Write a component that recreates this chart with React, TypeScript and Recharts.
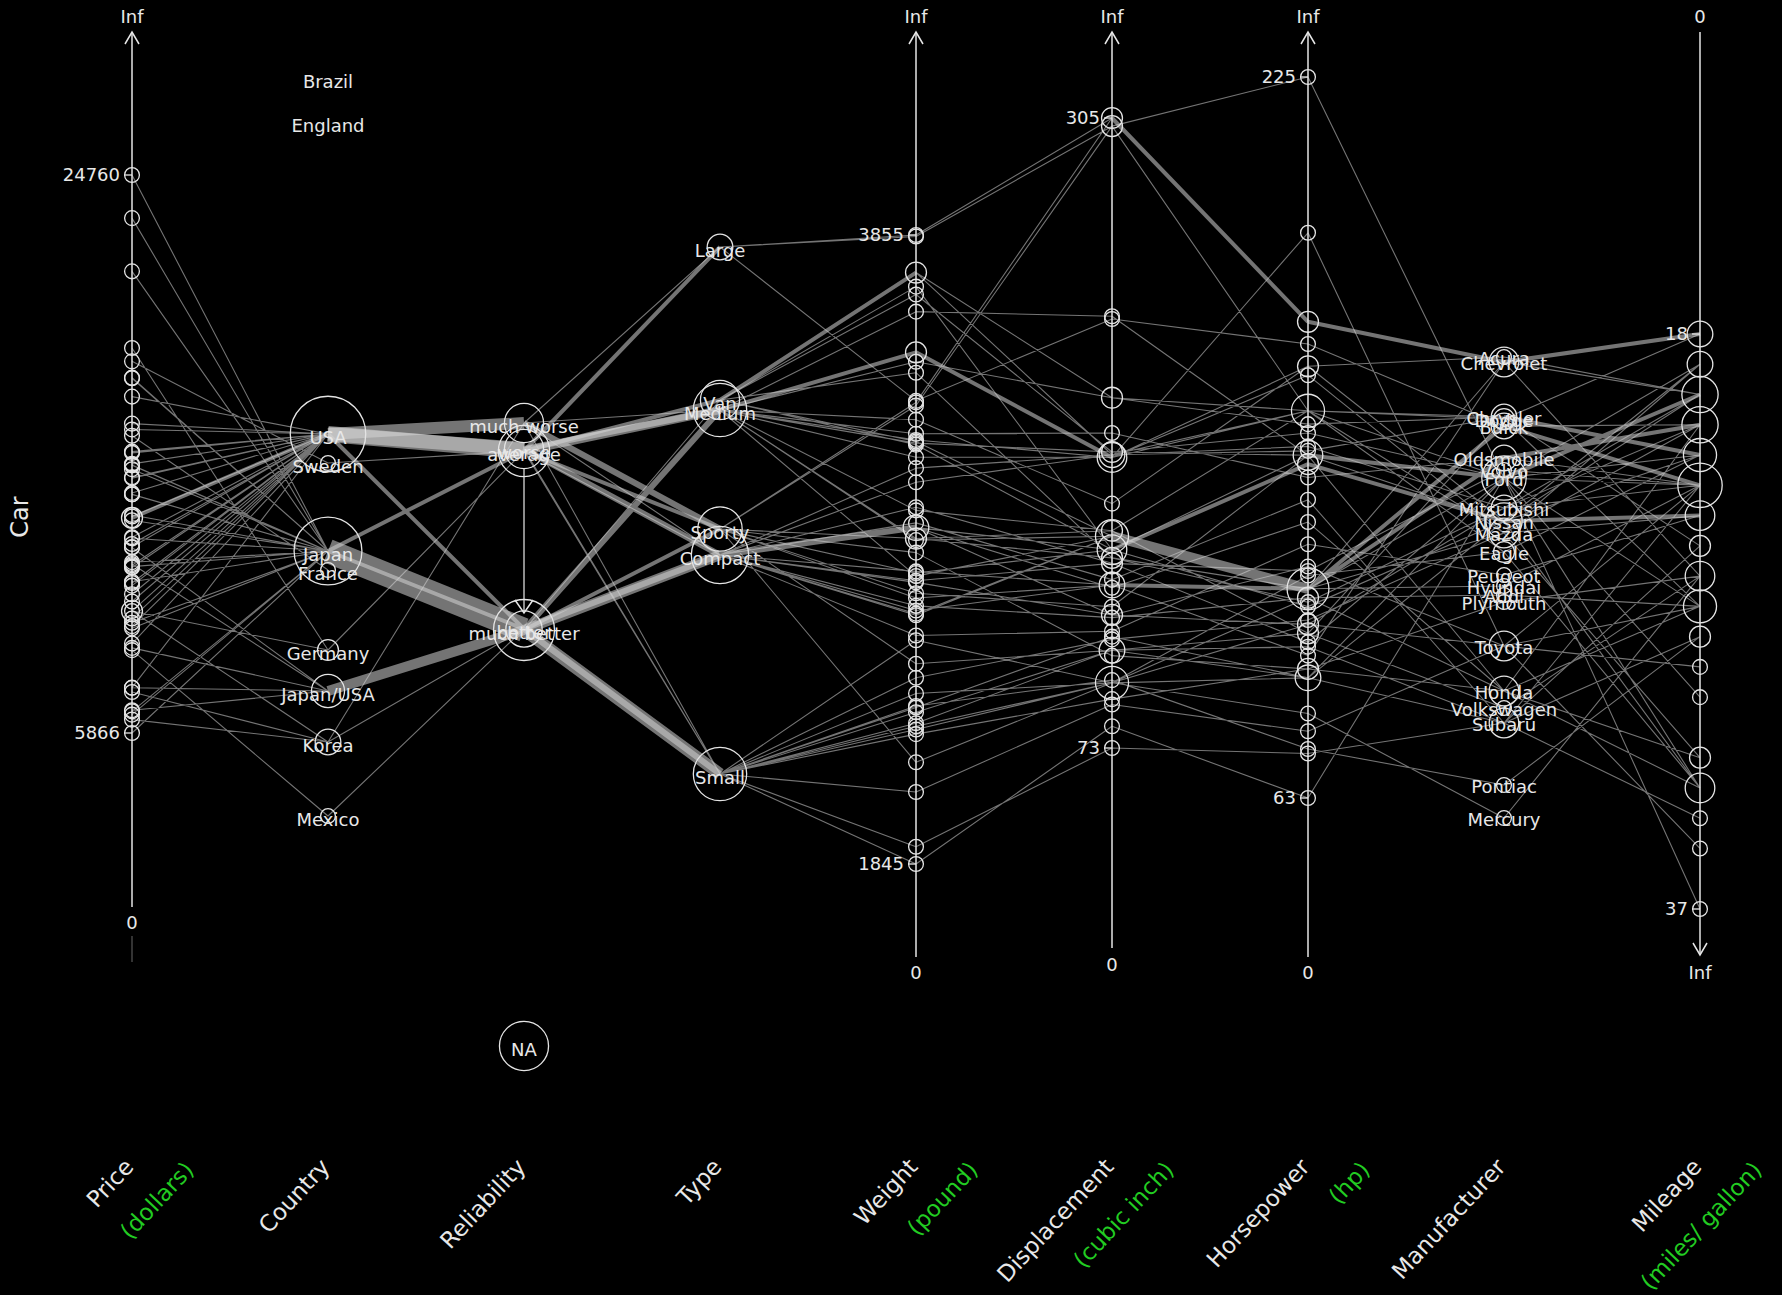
import React from 'react';
import { ComposedChart, Line, Scatter, XAxis, YAxis, ReferenceLine } from 'recharts';

// car test data (Consumer Reports, 60 cars)
const carNames = [
  'Eagle Summit 4', 'Ford Escort 4', 'Ford Festiva 4', 'Honda Civic 4', 'Mazda Protege 4', 'Mercury Tracer 4',
  'Nissan Sentra 4', 'Pontiac LeMans 4', 'Subaru Loyale 4', 'Subaru Justy 3', 'Toyota Corolla 4', 'Toyota Tercel 4',
  'Volkswagen Jetta 4', 'Chevrolet Camaro V8', 'Dodge Daytona', 'Ford Mustang V8', 'Ford Probe', 'Honda Civic CRX Si 4',
  'Honda Prelude Si 4WS 4', 'Nissan 240SX 4', 'Plymouth Laser', 'Subaru XT 4', 'Audi 80 4', 'Buick Skylark 4',
  'Chevrolet Beretta 4', 'Chrysler Le Baron V6', 'Ford Tempo 4', 'Honda Accord 4', 'Mazda 626 4', 'Mitsubishi Galant 4',
  'Mitsubishi Sigma V6', 'Nissan Stanza 4', 'Oldsmobile Calais 4', 'Peugeot 405 4', 'Subaru Legacy 4', 'Toyota Camry 4',
  'Volvo 240 4', 'Acura Legend V6', 'Buick Century 4', 'Chrysler Le Baron Coupe', 'Chrysler New Yorker V6',
  'Eagle Premier V6', 'Ford Taurus V6', 'Ford Thunderbird V6', 'Hyundai Sonata 4', 'Mazda 929 V6', 'Nissan Maxima V6',
  'Oldsmobile Cutlass Ciera 4', 'Oldsmobile Cutlass Supreme V6', 'Toyota Cressida 6', 'Buick Le Sabre V6',
  'Chevrolet Caprice V8', 'Ford LTD Crown Victoria V8', 'Chevrolet Lumina APV V6', 'Dodge Grand Caravan V6',
  'Ford Aerostar V6', 'Mazda MPV V6', 'Mitsubishi Wagon 4', 'Nissan Axxess 4', 'Nissan Van 4',
];

const price = [
  8895, 7402, 6319, 6635, 6599, 8672, 7399, 7254, 9599, 5866, 8748, 6488, 9995,
  11545, 9745, 12164, 11470, 9410, 13945, 13249, 10855, 13071,
  18900, 10565, 10320, 10945, 9483, 12145, 12459, 10989, 17879, 11650, 9995, 15930, 11499, 11588, 18450,
  24760, 13150, 12495, 16342, 15350, 13195, 14980, 9999, 23300, 17899, 13150, 14495, 21498,
  16145, 14525, 17257,
  13995, 15395, 12267, 14944, 14929, 13949, 14799,
];

const country = [
  'USA', 'USA', 'Korea', 'Japan/USA', 'Japan', 'Mexico', 'Japan/USA', 'Korea', 'Japan', 'Japan', 'Japan/USA', 'Japan', 'Germany',
  'USA', 'USA', 'USA', 'USA', 'Japan', 'Japan', 'Japan', 'USA', 'Japan',
  'Germany', 'USA', 'USA', 'USA', 'USA', 'Japan/USA', 'Japan', 'Japan', 'Japan', 'Japan', 'USA', 'France', 'Japan', 'Japan/USA', 'Sweden',
  'Japan', 'USA', 'USA', 'USA', 'USA', 'USA', 'USA', 'Korea', 'Japan', 'Japan', 'USA', 'USA', 'Japan',
  'USA', 'USA', 'USA',
  'USA', 'USA', 'USA', 'Japan', 'Japan', 'Japan', 'Japan',
];

const reliability = [
  'better', 'worse', 'better', 'much better', 'much better', 'better', 'much better', 'much worse', 'much better', 'NA',
  'much better', 'much better', 'average',
  'much worse', 'much worse', 'much worse', 'average', 'much better', 'much better', 'average', 'NA', 'NA',
  'NA', 'worse', 'much worse', 'better', 'worse', 'much better', 'better', 'much better', 'better', 'much better', 'worse',
  'NA', 'much better', 'much better', 'average',
  'much better', 'average', 'worse', 'average', 'worse', 'average', 'much worse', 'NA', 'much better', 'much better',
  'worse', 'NA', 'average',
  'average', 'much worse', 'average',
  'NA', 'average', 'average', 'much better', 'NA', 'NA', 'NA',
];

const carType = [
  ...Array(13).fill('Small'), ...Array(9).fill('Sporty'), ...Array(15).fill('Compact'),
  ...Array(13).fill('Medium'), ...Array(3).fill('Large'), ...Array(7).fill('Van'),
];

const weight = [
  2560, 2345, 1845, 2260, 2440, 2285, 2275, 2350, 2295, 1900, 2390, 2075, 2330,
  3320, 2885, 3310, 2695, 2170, 2710, 2775, 2840, 2485,
  2670, 2640, 2655, 3065, 2750, 2920, 2780, 2745, 3110, 2920, 2645, 2575, 2935, 2920, 2985,
  3265, 2880, 2975, 3450, 3145, 3190, 3610, 2885, 3480, 3200, 2765, 3220, 3480,
  3325, 3855, 3850,
  3195, 3735, 3665, 3735, 3415, 3185, 3690,
];

const displacement = [
  97, 114, 81, 91, 113, 97, 97, 98, 109, 73, 97, 89, 109,
  305, 153, 302, 133, 97, 125, 146, 107, 109,
  121, 151, 133, 181, 141, 132, 133, 122, 181, 146, 151, 116, 135, 122, 141,
  163, 151, 153, 202, 180, 182, 232, 143, 180, 180, 151, 189, 180,
  231, 305, 302,
  151, 202, 182, 181, 143, 146, 146,
];

const horsepower = [
  113, 90, 63, 92, 103, 82, 90, 74, 90, 73, 102, 78, 100,
  170, 100, 225, 110, 108, 140, 140, 92, 97,
  108, 110, 95, 141, 98, 125, 110, 102, 142, 138, 110, 120, 130, 115, 114,
  160, 110, 150, 147, 150, 140, 140, 110, 158, 160, 110, 135, 190,
  165, 170, 150,
  110, 150, 145, 150, 107, 138, 106,
];

const mileage = [
  33, 33, 37, 32, 32, 26, 33, 28, 25, 34, 29, 35, 26,
  20, 27, 19, 30, 33, 27, 24, 26, 28,
  27, 23, 26, 25, 27, 21, 24, 23, 21, 24, 23, 24, 23, 27, 23,
  20, 21, 22, 22, 22, 22, 23, 23, 21, 22, 21, 21, 23,
  23, 18, 20,
  18, 18, 20, 19, 20, 20, 19,
];

const manufacturer = carNames.map((n) => n.split(' ')[0]);

const axisNames = ['Price', 'Country', 'Reliability', 'Type', 'Weight', 'Displacement', 'Horsepower', 'Manufacturer', 'Mileage'];
const axisUnits = ['(dollars)', '', '', '', '(pound)', '(cubic inch)', '(hp)', '', '(miles/ gallon)'];

const countryLevels = ['Brazil', 'England', 'USA', 'Sweden', 'Japan', 'France', 'Germany', 'Japan/USA', 'Korea', 'Mexico'];
const reliabilityLevels = ['much worse', 'worse', 'average', 'better', 'much better', 'NA'];
const typeLevels = ['Large', 'Van', 'Medium', 'Sporty', 'Compact', 'Small'];
const manufacturerLevels = [
  'Acura', 'Chevrolet', 'Chrysler', 'Dodge', 'Buick', 'Oldsmobile', 'Volvo', 'Ford', 'Mitsubishi', 'Nissan', 'Mazda',
  'Eagle', 'Peugeot', 'Hyundai', 'Audi', 'Plymouth', 'Toyota', 'Honda', 'Volkswagen', 'Subaru', 'Pontiac', 'Mercury',
];

// ---- layout ----
const W = 1782;
const H = 1295;
const TITLE_H = 130;
const PLOT_H = H - TITLE_H;
const AXIS_STEP = 196;
const FIRST_AXIS_X = 132;
const FONT = '"DejaVu Sans", sans-serif';
const TEXT = '#e8e8e8';
const GREEN = '#22cc22';

// vertical slots of the levels on the categorical axes
const countryPos = [78, 122, 434, 463, 551, 570, 650, 691, 742, 816];
const reliabilityPos = [423, 449, 451, 629, 630, 1046];
const typePos = [247, 400, 410, 529, 555, 774];
const manufacturerPos = [357, 362, 417, 419, 426, 458, 470, 478, 508, 521, 533, 552, 575, 586, 595, 602, 646, 691, 708, 723, 785, 818];

const columns: (number | string)[][] = [price, country, reliability, carType, weight, displacement, horsepower, manufacturer, mileage];

// where the min and the max of each numeric column sit
const numericSpan: Record<number, [number, number]> = {
  0: [733, 175],
  4: [864, 235],
  5: [748, 118],
  6: [798, 77],
  8: [334, 909],
};

const toMap = (levels: string[], pos: number[]) => Object.fromEntries(levels.map((l, i) => [l, pos[i]]));
const levelPos: Record<number, Record<string, number>> = {
  1: toMap(countryLevels, countryPos),
  2: toMap(reliabilityLevels, reliabilityPos),
  3: toMap(typeLevels, typePos),
  7: toMap(manufacturerLevels, manufacturerPos),
};
const levelLists: Record<number, string[]> = { 1: countryLevels, 2: reliabilityLevels, 3: typeLevels, 7: manufacturerLevels };
const labelShift: Record<number, number> = { 1: 4, 2: 4, 3: 4, 7: 2 };

const yOfValue = (col: number, v: number | string): number => {
  const span = numericSpan[col];
  if (span) {
    const vals = columns[col] as number[];
    const lo = Math.min(...vals);
    const hi = Math.max(...vals);
    return span[0] + (((v as number) - lo) / (hi - lo)) * (span[1] - span[0]);
  }
  return levelPos[col][v as string];
};

// aggregated segments between neighbouring axes, thicker when shared
const segMap = new Map<string, { i: number; a: number; b: number; n: number }>();
for (let i = 0; i < columns.length - 1; i++) {
  for (let k = 0; k < carNames.length; k++) {
    const va = columns[i][k];
    const vb = columns[i + 1][k];
    if (va === 'NA' || vb === 'NA') continue;
    const a = yOfValue(i, va);
    const b = yOfValue(i + 1, vb);
    const key = `${i}|${a}|${b}`;
    const s = segMap.get(key);
    if (s) s.n += 1;
    else segMap.set(key, { i, a, b, n: 1 });
  }
}
const byCount = new Map<number, { x: number; y: number | null }[]>();
segMap.forEach((s) => {
  const arr = byCount.get(s.n) ?? [];
  arr.push({ x: s.i, y: s.a }, { x: s.i + 1, y: s.b }, { x: s.i + 0.5, y: null });
  byCount.set(s.n, arr);
});
const segmentGroups = [...byCount.entries()].sort((p, q) => p[0] - q[0]);

// circles sized by the number of cars sharing a value
const circlePoints: { x: number; y: number; r: number }[] = [];
columns.forEach((col, i) => {
  const counts = new Map<number | string, number>();
  col.forEach((v) => counts.set(v, (counts.get(v) ?? 0) + 1));
  counts.forEach((n, v) => circlePoints.push({ x: i, y: yOfValue(i, v), r: 7.4 * Math.sqrt(n) }));
});

const levelLabels: { x: number; y: number; text: string }[] = [];
Object.keys(levelLists).forEach((c) => {
  const col = Number(c);
  levelLists[col].forEach((l) => levelLabels.push({ x: col, y: levelPos[col][l] + labelShift[col], text: l }));
});

const extremeLabels: { x: number; y: number; text: string }[] = [];
Object.keys(numericSpan).forEach((c) => {
  const col = Number(c);
  const vals = columns[col] as number[];
  [Math.min(...vals), Math.max(...vals)].forEach((v) => extremeLabels.push({ x: col, y: yOfValue(col, v), text: String(v) }));
});

const AXIS_TOP = 32;
const TOP_LABEL_Y = 17;
const frames = [
  { col: 0, top: 'Inf', bottom: '0', end: 907, bottomY: 923, dir: 'up' },
  { col: 4, top: 'Inf', bottom: '0', end: 957, bottomY: 973, dir: 'up' },
  { col: 5, top: 'Inf', bottom: '0', end: 948, bottomY: 965, dir: 'up' },
  { col: 6, top: 'Inf', bottom: '0', end: 957, bottomY: 973, dir: 'up' },
  { col: 8, top: '0', bottom: 'Inf', end: 955, bottomY: 973, dir: 'down' },
];
const frameLabels = frames.flatMap((f) => [
  { x: f.col, y: TOP_LABEL_Y, text: f.top },
  { x: f.col, y: f.bottomY, text: f.bottom },
]);
const arrowHeads = [
  ...frames.map((f) => ({ x: f.col, y: f.dir === 'up' ? AXIS_TOP : f.end, dir: f.dir, w: 7, h: 12 })),
  { x: 2, y: levelPos[2]['much better'] - 17, dir: 'down', w: 9, h: 13 },
];

// x domain wide enough that the outer axes are not clipped
const X_DOMAIN = [-FIRST_AXIS_X / AXIS_STEP, (W - FIRST_AXIS_X) / AXIS_STEP];

const AxisTitle = (props: any) => {
  const { x, y, payload } = props;
  const i = payload.value as number;
  return (
    <g>
      <text transform={`translate(${x + 3},${y + 3}) rotate(-47)`} textAnchor="end" fill={TEXT} fontSize={23} fontFamily={FONT}>
        {axisNames[i]}
      </text>
      {axisUnits[i] ? (
        <text transform={`translate(${x + 63},${y + 6}) rotate(-47)`} textAnchor="end" fill={GREEN} fontSize={23} fontFamily={FONT}>
          {axisUnits[i]}
        </text>
      ) : null}
    </g>
  );
};

export default function App() {
  return (
    <div style={{ position: 'absolute', left: 0, top: 0, width: W, height: H, background: '#000', overflow: 'hidden' }}>
      <div
        style={{
          position: 'absolute', left: 20, top: 517, transform: 'translate(-50%, -50%) rotate(-90deg)',
          color: TEXT, fontFamily: FONT, fontSize: 24, whiteSpace: 'nowrap',
        }}
      >
        Car
      </div>
      <ComposedChart width={W} height={H} margin={{ top: 0, right: 0, bottom: 0, left: 0 }}>
        <XAxis
          type="number"
          dataKey="x"
          domain={X_DOMAIN}
          ticks={[0, 1, 2, 3, 4, 5, 6, 7, 8]}
          interval={0}
          allowDataOverflow
          axisLine={false}
          tickLine={false}
          tickSize={0}
          tickMargin={0}
          height={TITLE_H}
          tick={(p: any) => <AxisTitle {...p} />}
        />
        <YAxis type="number" dataKey="y" domain={[0, PLOT_H]} reversed hide allowDataOverflow />

        {segmentGroups.map(([n, data]) => (
          <Line
            key={`seg-${n}`}
            data={data}
            dataKey="y"
            type="linear"
            stroke="#d4d4d4"
            strokeOpacity={0.55}
            strokeWidth={n === 1 ? 1.1 : 2 * n}
            dot={false}
            activeDot={false}
            connectNulls={false}
            isAnimationActive={false}
          />
        ))}

        {frames.map((f) => (
          <ReferenceLine
            key={`axis-${f.col}`}
            segment={[{ x: f.col, y: AXIS_TOP }, { x: f.col, y: f.end }]}
            stroke="#e6e6e6"
            strokeWidth={1.5}
            ifOverflow="visible"
          />
        ))}
        <ReferenceLine
          segment={[{ x: 0, y: 936 }, { x: 0, y: 962 }]}
          stroke="#e6e6e6"
          strokeOpacity={0.3}
          strokeWidth={1.5}
          ifOverflow="visible"
        />
        <ReferenceLine
          segment={[{ x: 2, y: levelPos[2].average + 18 }, { x: 2, y: levelPos[2]['much better'] - 17 }]}
          stroke="#bdbdbd"
          strokeWidth={1.5}
          ifOverflow="visible"
        />

        <Scatter
          data={arrowHeads}
          isAnimationActive={false}
          shape={(p: any) => {
            const { w, h, dir } = p.payload;
            const s = dir === 'up' ? h : -h;
            return (
              <path
                d={`M${p.cx - w},${p.cy + s} L${p.cx},${p.cy} L${p.cx + w},${p.cy + s}`}
                fill="none"
                stroke="#e6e6e6"
                strokeWidth={1.5}
              />
            );
          }}
        />

        <Scatter
          data={circlePoints}
          isAnimationActive={false}
          shape={(p: any) => (
            <circle cx={p.cx} cy={p.cy} r={p.payload.r} fill="none" stroke="#e4e4e4" strokeWidth={1.3} />
          )}
        />

        <Scatter
          data={extremeLabels}
          isAnimationActive={false}
          shape={(p: any) => (
            <g>
              <line x1={p.cx - 8} y1={p.cy} x2={p.cx} y2={p.cy} stroke="#e6e6e6" strokeWidth={1.3} />
              <text x={p.cx - 12} y={p.cy} dy="0.35em" textAnchor="end" fill={TEXT} fontSize={18} fontFamily={FONT}>
                {p.payload.text}
              </text>
            </g>
          )}
        />

        <Scatter
          data={frameLabels}
          isAnimationActive={false}
          shape={(p: any) => (
            <text x={p.cx} y={p.cy} dy="0.35em" textAnchor="middle" fill={TEXT} fontSize={18} fontFamily={FONT}>
              {p.payload.text}
            </text>
          )}
        />

        <Scatter
          data={levelLabels}
          isAnimationActive={false}
          shape={(p: any) => (
            <text x={p.cx} y={p.cy} dy="0.35em" textAnchor="middle" fill={TEXT} fontSize={18} fontFamily={FONT}>
              {p.payload.text}
            </text>
          )}
        />
      </ComposedChart>
    </div>
  );
}
